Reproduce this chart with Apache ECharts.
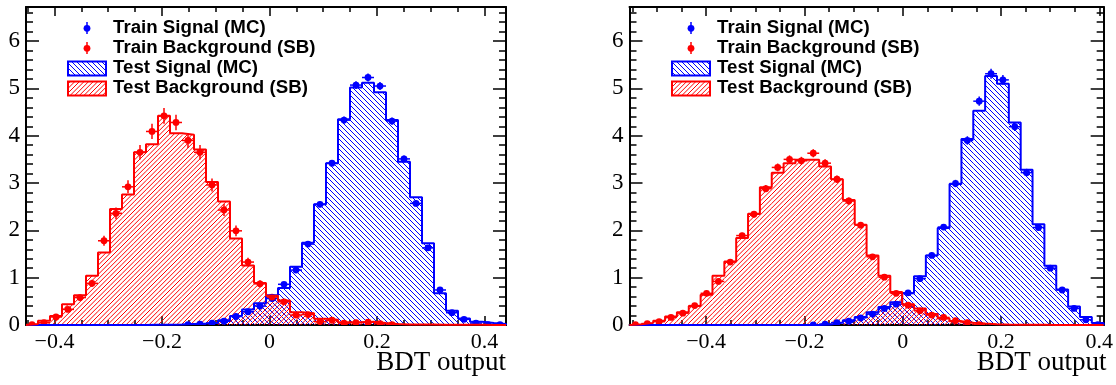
<!DOCTYPE html>
<html><head><meta charset="utf-8">
<script src="https://cdn.jsdelivr.net/npm/echarts@6/dist/echarts.min.js"></script>
<style>html,body{margin:0;padding:0;background:#fff}#c{width:1116px;height:385px}</style>
</head><body><div id="c"></div>
<script>
// ---------------- DATA ----------------
const NBINS = 40;
const leftRange = [-0.453, 0.44];
const rightRange = [-0.556, 0.409];
const yRange = [0, 6.72];
const xTickValues = [-0.4, -0.2, 0, 0.2, 0.4];
const yTickValues = [0, 1, 2, 3, 4, 5, 6];
const legendLabels = ['Train Signal (MC)', 'Train Background (SB)', 'Test Signal (MC)', 'Test Background (SB)'];
const xTitle = 'BDT output';

// Left panel
const sigTestL = [0,0,0,0,0,0,0,0,0,0,
  0.003,0.005,0.01,0.02,0.03,0.05,0.10,0.19,0.33,0.46,
  0.63,0.78,1.23,1.74,2.55,3.42,4.35,5.02,5.12,4.92,
  4.33,3.45,2.70,1.73,0.67,0.30,0.14,0.07,0.04,0.02];
const bkgTestL = [0.02,0.09,0.19,0.44,0.63,1.04,1.53,2.45,2.76,3.65,
  3.82,4.42,4.05,4.02,3.71,3.02,2.61,1.83,1.26,0.89,
  0.62,0.52,0.27,0.25,0.13,0.11,0.06,0.06,0.07,0.04,
  0.02,0.01,0.01,0.01,0.005,0.005,0.003,0.003,0.002,0.002];
const sigTrainL = [0,0,0,0,0,0,0,0,0,0,
  0,0,0,0.01,0.02,0.04,0.08,0.18,0.28,0.40,
  0.56,0.86,1.16,1.71,2.55,3.42,4.33,5.07,5.23,5.05,
  4.31,3.51,2.57,1.63,0.74,0.26,0.12,0.04,0.005,0.005];
const bkgTrainL = [0.01,0.05,0.17,0.33,0.58,0.88,1.78,2.36,2.92,3.65,
  4.09,4.42,4.28,3.90,3.65,2.96,2.43,1.99,1.33,0.87,
  0.59,0.49,0.21,0.22,0.07,0.10,0.04,0.05,0.06,0.03,
  0.01,0,0,0,0,0,0,0,0,0];

// Right panel
const sigTestR = [0,0,0,0,0,0,0,0,0,0,
  0,0,0,0,0,0,0.01,0.05,0.10,0.17,
  0.27,0.38,0.48,0.67,1.03,1.47,2.05,2.98,3.93,4.53,
  5.26,5.10,4.28,3.28,2.13,1.25,0.75,0.39,0.17,0.04];
const bkgTestR = [0.015,0.045,0.09,0.18,0.27,0.40,0.64,1.04,1.34,1.84,
  2.35,2.91,3.22,3.42,3.49,3.49,3.35,3.08,2.64,2.12,
  1.47,1.04,0.70,0.44,0.35,0.23,0.14,0.08,0.05,0.03,
  0.015,0.01,0.006,0.004,0.003,0.002,0.002,0.001,0.001,0.001];
const sigTrainR = [0,0,0,0,0,0,0,0,0,0,
  0,0,0,0,0,0.003,0.02,0.05,0.08,0.15,
  0.23,0.35,0.44,0.68,0.98,1.47,2.07,2.99,3.90,4.73,
  5.31,5.18,4.19,3.22,2.06,1.20,0.74,0.35,0.11,0.005];
const bkgTrainR = [0.005,0.03,0.07,0.16,0.25,0.41,0.67,0.92,1.33,1.89,
  2.34,2.88,3.33,3.50,3.47,3.63,3.42,3.08,2.62,2.11,
  1.44,1.01,0.67,0.42,0.30,0.21,0.16,0.09,0.05,0.01,
  0,0,0,0,0,0,0,0,0,0];

// ---------------- STYLE / LAYOUT ----------------
const BLUE = '#0000ff', RED = '#ff0000';
const SERIF = 'Liberation Serif';
const SANS = 'Liberation Sans';
const SIG_HATCH = { color: BLUE, dir: -1, step: 5 };
const BKG_HATCH = { color: RED, dir: 1, step: 4.6 };

// hatch segments inside a pixel rectangle, aligned to the global canvas grid
function hatchSegments(X0, Y0, X1, Y1, h) {
  const s = h.step, segs = [];
  if (X1 <= X0 || Y1 <= Y0) return segs;
  if (h.dir > 0) { // '/' : x + y = c
    for (let c = Math.ceil((X0 + Y0) / s) * s; c <= X1 + Y1; c += s) {
      const xa = Math.max(X0, c - Y1), xb = Math.min(X1, c - Y0);
      if (xb > xa) segs.push([xa, c - xa, xb, c - xb]);
    }
  } else { // '\' : x - y = c
    for (let c = Math.ceil((X0 - Y1) / s) * s; c <= X1 - Y0; c += s) {
      const xa = Math.max(X0, c + Y0), xb = Math.min(X1, c + Y1);
      if (xb > xa) segs.push([xa, xa - c, xb, xb - c]);
    }
  }
  return segs;
}

const panels = [
  { range: leftRange, sigTest: sigTestL, bkgTest: bkgTestL, sigTrain: sigTrainL, bkgTrain: bkgTrainL,
    errSig: 0.037, errBkg: 0.08,
    grid: { left: 26, top: 7, width: 480, height: 318 },
    leg: { markerX: 87, textX: 113, boxX: 68 } },
  { range: rightRange, sigTest: sigTestR, bkgTest: bkgTestR, sigTrain: sigTrainR, bkgTrain: bkgTrainR,
    errSig: 0.045, errBkg: 0.045,
    grid: { left: 629.5, top: 7, width: 477, height: 318 },
    leg: { markerX: 691, textX: 717, boxX: 672 } }
];
const legRowsY = [27.5, 47.5, 68, 88];

function fmtX(v) {
  for (const t of xTickValues) {
    if (Math.abs(v - t) < 1e-6) {
      if (t < 0) return '\u2212' + Math.abs(t);
      return String(t);
    }
  }
  return '';
}

const grids = [], xAxes = [], yAxes = [], series = [], graphics = [];
const axLine = { show: true, onZero: false, lineStyle: { color: '#000', width: 2 } };
const noLine = { show: false, onZero: false };

panels.forEach((p, i) => {
  grids.push(Object.assign({ containLabel: false }, p.grid));
  const [lo, hi] = p.range;
  const w = (hi - lo) / NBINS;
  const base = { gridIndex: i, type: 'value', min: lo, max: hi, splitLine: { show: false } };
  xAxes.push(Object.assign({}, base, { position: 'bottom', splitNumber: 5, minInterval: 0.2, maxInterval: 0.2,
    axisLine: axLine, axisTick: { show: true, inside: true, length: 9, lineStyle: { color: '#000', width: 1.5 } },
    axisLabel: { show: true, formatter: fmtX, fontFamily: SERIF, fontSize: 22, color: '#000', margin: 6,
      showMinLabel: false, showMaxLabel: false } }));
  xAxes.push(Object.assign({}, base, { position: 'bottom', splitNumber: 18, minInterval: 0.05, maxInterval: 0.05,
    axisLine: noLine, axisTick: { show: true, inside: true, length: 5, lineStyle: { color: '#000', width: 1.5 } },
    axisLabel: { show: false } }));
  xAxes.push(Object.assign({}, base, { position: 'top', splitNumber: 5, minInterval: 0.2, maxInterval: 0.2,
    axisLine: axLine, axisTick: { show: true, inside: true, length: 9, lineStyle: { color: '#000', width: 1.5 } },
    axisLabel: { show: false } }));
  xAxes.push(Object.assign({}, base, { position: 'top', splitNumber: 18, minInterval: 0.05, maxInterval: 0.05,
    axisLine: noLine, axisTick: { show: true, inside: true, length: 5, lineStyle: { color: '#000', width: 1.5 } },
    axisLabel: { show: false } }));

  const ybase = { gridIndex: i, type: 'value', min: yRange[0], max: yRange[1], splitLine: { show: false } };
  yAxes.push(Object.assign({}, ybase, { position: 'left', interval: 1,
    axisLine: axLine, axisTick: { show: true, inside: true, length: 13, lineStyle: { color: '#000', width: 1.5 } },
    axisLabel: { show: true, fontFamily: SERIF, fontSize: 23, color: '#000', margin: 6, showMaxLabel: false,
      formatter: v => (yTickValues.indexOf(v) >= 0 ? String(v) : '') } }));
  yAxes.push(Object.assign({}, ybase, { position: 'left', interval: 0.2,
    axisLine: noLine, axisTick: { show: true, inside: true, length: 7, lineStyle: { color: '#000', width: 1.5 } },
    axisLabel: { show: false } }));
  yAxes.push(Object.assign({}, ybase, { position: 'right', interval: 1,
    axisLine: axLine, axisTick: { show: true, inside: true, length: 13, lineStyle: { color: '#000', width: 1.5 } },
    axisLabel: { show: false } }));
  yAxes.push(Object.assign({}, ybase, { position: 'right', interval: 0.2,
    axisLine: noLine, axisTick: { show: true, inside: true, length: 7, lineStyle: { color: '#000', width: 1.5 } },
    axisLabel: { show: false } }));

  const xi = 4 * i, yi = 4 * i;
  const histData = vals => vals.map((v, k) => [lo + k * w, lo + (k + 1) * w, v]);
  const stepData = vals => {
    const d = [[lo, 0]];
    vals.forEach((v, k) => d.push([lo + k * w, v]));
    d.push([hi, vals[vals.length - 1]]);
    d.push([hi, 0]);
    return d;
  };
  const pointData = (vals, ek) => vals.map((v, k) => [lo + (k + 0.5) * w, v, ek * Math.sqrt(Math.max(v, 0))]);

  const fillSeries = (vals, h) => ({
    type: 'custom', xAxisIndex: xi, yAxisIndex: yi, clip: true, silent: true,
    data: histData(vals), encode: { x: [0, 1], y: 2 },
    renderItem: (params, api) => {
      const a = api.coord([api.value(0), api.value(2)]);
      const b = api.coord([api.value(1), 0]);
      const cs = params.coordSys;
      const top = Math.max(a[1], cs.y);
      const segs = hatchSegments(a[0], top, b[0], b[1], h);
      if (!segs.length) return null;
      let d = '';
      segs.forEach(sg => { d += 'M' + sg[0].toFixed(2) + ' ' + sg[1].toFixed(2) + 'L' + sg[2].toFixed(2) + ' ' + sg[3].toFixed(2); });
      return { type: 'path', shape: { pathData: d }, style: { stroke: h.color, lineWidth: 1, fill: null } };
    }
  });
  const outlineSeries = (vals, col) => ({
    type: 'line', xAxisIndex: xi, yAxisIndex: yi, step: 'end', showSymbol: false, symbol: 'none',
    data: stepData(vals), lineStyle: { color: col, width: 2 }, silent: true, clip: true
  });
  const pointSeries = (vals, ek, col) => ({
    type: 'custom', xAxisIndex: xi, yAxisIndex: yi, clip: true, silent: true,
    data: pointData(vals, ek), encode: { x: 0, y: 1 },
    renderItem: (params, api) => {
      const x = api.value(0), v = api.value(1), e = api.value(2);
      if (!(v > 0)) return null;
      const c = api.coord([x, v]);
      const t = api.coord([x, v + e]);
      const b = api.coord([x, Math.max(v - e, 0)]);
      const l = api.coord([x - w / 2, v]);
      const r = api.coord([x + w / 2, v]);
      return { type: 'group', children: [
        { type: 'line', shape: { x1: c[0], y1: t[1], x2: c[0], y2: b[1] }, style: { stroke: col, lineWidth: 1.5 } },
        { type: 'line', shape: { x1: l[0], y1: c[1], x2: r[0], y2: c[1] }, style: { stroke: col, lineWidth: 1.5 } },
        { type: 'circle', shape: { cx: c[0], cy: c[1], r: 3.4 }, style: { fill: col } }
      ] };
    }
  });

  series.push(fillSeries(p.sigTest, SIG_HATCH));
  series.push(fillSeries(p.bkgTest, BKG_HATCH));
  series.push(outlineSeries(p.sigTest, BLUE));
  series.push(outlineSeries(p.bkgTest, RED));
  series.push(pointSeries(p.sigTrain, p.errSig, BLUE));
  series.push(pointSeries(p.bkgTrain, p.errBkg, RED));

  // legend
  const L = p.leg;
  const dotCols = [BLUE, RED];
  for (let r = 0; r < 2; r++) {
    graphics.push({ type: 'line', shape: { x1: L.markerX, y1: legRowsY[r] - 5.5, x2: L.markerX, y2: legRowsY[r] + 6.5 },
      style: { stroke: dotCols[r], lineWidth: 1.5 } });
    graphics.push({ type: 'circle', shape: { cx: L.markerX, cy: legRowsY[r] + 0.8, r: 3.4 }, style: { fill: dotCols[r] } });
  }
  const hatches = [SIG_HATCH, BKG_HATCH];
  for (let r = 0; r < 2; r++) {
    const h = hatches[r];
    const bx = L.boxX, by = legRowsY[r + 2] - 6.5, bw = 38, bh = 14;
    hatchSegments(bx, by, bx + bw, by + bh, h).forEach(sg => {
      graphics.push({ type: 'line', shape: { x1: sg[0], y1: sg[1], x2: sg[2], y2: sg[3] },
        style: { stroke: h.color, lineWidth: 1 } });
    });
    graphics.push({ type: 'rect', shape: { x: bx, y: by, width: bw, height: bh },
      style: { fill: null, stroke: h.color, lineWidth: 2 } });
  }
  for (let r = 0; r < 4; r++) {
    graphics.push({ type: 'text', x: L.textX, y: legRowsY[r], style: { text: legendLabels[r],
      font: 'bold 18.7px "' + SANS + '"', fill: '#000', textAlign: 'left', textVerticalAlign: 'middle' } });
  }
  graphics.push({ type: 'text', x: p.grid.left + p.grid.width, y: 376, style: { text: xTitle,
    font: '27px "' + SERIF + '"', fill: '#000', textAlign: 'right', textVerticalAlign: 'bottom' } });
});

const chart = echarts.init(document.getElementById('c'), null, { renderer: 'canvas' });
chart.setOption({
  animation: false,
  backgroundColor: '#fff',
  grid: grids, xAxis: xAxes, yAxis: yAxes, series: series,
  graphic: graphics
});
</script></body></html>
